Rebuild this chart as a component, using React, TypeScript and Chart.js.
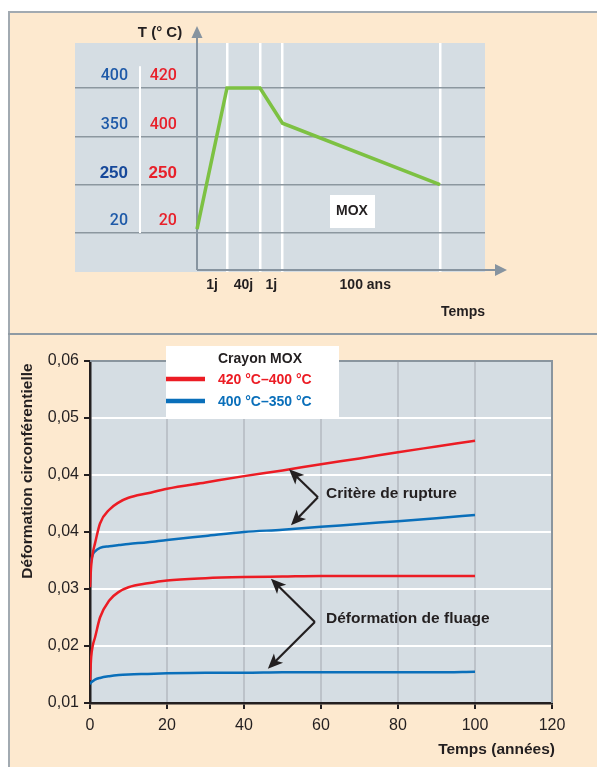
import React, { useEffect, useRef } from "react";
import { Chart, registerables } from "chart.js";
Chart.register(...registerables);

const FONT = '"Liberation Sans", Arial, Helvetica, sans-serif';
const DARK = "#231f20";
const RED = "#ec1c24";
const BLUE = "#0a6fba";

// ---------- Top panel (schematic temperature history) ----------
const phaseBounds = [0, 1, 2.1, 2.85, 8.1]; // schematic time units
const phaseLabels = ["1j", "40j", "1j", "100 ans"];
const tempProfile = [0.08, 3, 3, 2.27, 1]; // temperature level index
const levelsBlue = ["20", "250", "350", "400"];
const levelsRed = ["20", "250", "400", "420"];

// ---------- Bottom panel (creep strain) ----------
const years = [0, 0.3, 0.7, 1.3, 2.6, 5, 7.5, 10, 15, 20, 30, 40, 50, 60, 70, 80, 90, 100];
const rupture420 = [2.03, 2.4, 2.62, 2.8, 3.15, 3.39, 3.52, 3.6, 3.68, 3.76, 3.87, 3.98, 4.08, 4.19, 4.29, 4.4, 4.5, 4.6];
const rupture400 = [2.33, 2.5, 2.6, 2.66, 2.72, 2.75, 2.77, 2.79, 2.82, 2.86, 2.93, 3.0, 3.04, 3.09, 3.14, 3.19, 3.24, 3.3];
const fluage420 = [0.4, 0.8, 1.0, 1.15, 1.5, 1.8, 1.95, 2.03, 2.1, 2.15, 2.19, 2.21, 2.22, 2.23, 2.23, 2.23, 2.23, 2.23];
const fluage400 = [0.33, 0.36, 0.38, 0.41, 0.44, 0.47, 0.49, 0.5, 0.51, 0.52, 0.53, 0.53, 0.54, 0.54, 0.54, 0.54, 0.54, 0.55];
const strainTickLabels = ["0,01", "0,02", "0,03", "0,04", "0,04", "0,05", "0,06"];
const legendTitle = "Crayon MOX";
const seriesNames = ["420 °C–400 °C", "400 °C–350 °C"];
const annotations = [
  { text: "Critère de rupture", vertex: [59.2, 3.61], tips: [[51.7, 4.1], [52.2, 3.12]], textAt: [61.3, 3.68] },
  { text: "Déformation de fluage", vertex: [58.4, 1.42], tips: [[47, 2.18], [46.2, 0.6]], textAt: [61.3, 1.47] },
];

function arrowHead(ctx: CanvasRenderingContext2D, x1: number, y1: number, x2: number, y2: number, len: number, half: number) {
  const ang = Math.atan2(y2 - y1, x2 - x1);
  ctx.beginPath();
  ctx.moveTo(x2, y2);
  ctx.lineTo(x2 - len * Math.cos(ang) + half * Math.sin(ang), y2 - len * Math.sin(ang) - half * Math.cos(ang));
  ctx.lineTo(x2 - len * 0.75 * Math.cos(ang), y2 - len * 0.75 * Math.sin(ang));
  ctx.lineTo(x2 - len * Math.cos(ang) - half * Math.sin(ang), y2 - len * Math.sin(ang) + half * Math.cos(ang));
  ctx.closePath();
  ctx.fill();
}

function TopChart() {
  const ref = useRef<HTMLCanvasElement>(null);
  useEffect(() => {
    const decor = {
      id: "topDecor",
      beforeDraw(chart: any) {
        const { ctx, chartArea: a } = chart;
        ctx.save();
        ctx.fillStyle = "#d5dde3";
        ctx.fillRect(a.left, a.top, a.right - a.left, a.bottom - a.top);
        ctx.restore();
      },
      beforeDatasetsDraw(chart: any) {
        const { ctx } = chart;
        const xs = chart.scales.x, ys = chart.scales.y;
        ctx.save();
        // separator between the two label columns
        ctx.strokeStyle = "#ffffff";
        ctx.lineWidth = 2;
        const sx = xs.getPixelForValue(-1.9);
        ctx.beginPath();
        ctx.moveTo(sx, ys.getPixelForValue(3.45));
        ctx.lineTo(sx, ys.getPixelForValue(0));
        ctx.stroke();
        // level labels
        ctx.textBaseline = "middle";
        ctx.textAlign = "right";
        levelsBlue.forEach((t, i) => {
          const bold = i === 1;
          ctx.font = bold ? `bold 17px ${FONT}` : `500 16px Roboto, ${FONT}`;
          ctx.fillStyle = bold ? "#17489a" : "#1f5aa8";
          ctx.fillText(t, xs.getPixelForValue(-2.3), ys.getPixelForValue(i + 0.24));
        });
        levelsRed.forEach((t, i) => {
          const bold = i === 1;
          ctx.font = bold ? `bold 17px ${FONT}` : `500 16px Roboto, ${FONT}`;
          ctx.fillStyle = "#e8202a";
          ctx.fillText(t, xs.getPixelForValue(-0.67), ys.getPixelForValue(i + 0.24));
        });
        // axes with arrows
        const ox = xs.getPixelForValue(0);
        const oy = ys.bottom - 2;
        ctx.strokeStyle = "#8794a0";
        ctx.fillStyle = "#8794a0";
        ctx.lineWidth = 2;
        ctx.beginPath();
        ctx.moveTo(ox, oy);
        ctx.lineTo(ox, 36);
        ctx.moveTo(ox, oy);
        ctx.lineTo(497, oy);
        ctx.stroke();
        ctx.beginPath();
        ctx.moveTo(ox, 26);
        ctx.lineTo(ox - 5.5, 38);
        ctx.lineTo(ox + 5.5, 38);
        ctx.closePath();
        ctx.fill();
        ctx.beginPath();
        ctx.moveTo(507, oy);
        ctx.lineTo(495, oy - 6);
        ctx.lineTo(495, oy + 6);
        ctx.closePath();
        ctx.fill();
        // texts
        ctx.fillStyle = DARK;
        ctx.font = `bold 15px ${FONT}`;
        ctx.textAlign = "center";
        ctx.fillText("T (° C)", 160, 33);
        ctx.font = `bold 14px ${FONT}`;
        phaseLabels.forEach((t, i) => {
          const mid = (phaseBounds[i] + phaseBounds[i + 1]) / 2;
          ctx.fillText(t, xs.getPixelForValue(mid) + (i === 3 ? 4 : 0), oy + 15);
        });
        ctx.textAlign = "right";
        ctx.fillText("Temps", 485, 312);
        ctx.restore();
      },
      afterDraw(chart: any) {
        const { ctx } = chart;
        ctx.save();
        ctx.fillStyle = "#ffffff";
        ctx.fillRect(330, 195, 45, 33);
        ctx.fillStyle = DARK;
        ctx.font = `bold 14px ${FONT}`;
        ctx.textAlign = "center";
        ctx.textBaseline = "middle";
        ctx.fillText("MOX", 352, 211);
        ctx.restore();
      },
    };
    const chart = new Chart(ref.current!, {
      type: "line",
      data: {
        datasets: [
          {
            data: phaseBounds.map((x, i) => ({ x, y: tempProfile[i] })),
            borderColor: "#7dc142",
            borderWidth: 3.5,
            pointRadius: 0,
            tension: 0,
          },
        ],
      },
      options: {
        responsive: false,
        animation: false,
        events: [],
        layout: { padding: { left: 75, top: 43, right: 112, bottom: 61 } },
        plugins: { legend: { display: false }, tooltip: { enabled: false } },
        scales: {
          x: {
            type: "linear",
            min: -4.067,
            max: 9.6,
            ticks: { display: false },
            grid: { color: "#ffffff", lineWidth: 2.5, drawTicks: false },
            border: { display: false },
            afterBuildTicks: (s: any) => {
              s.ticks = phaseBounds.slice(1).map((v) => ({ value: v }));
            },
            afterFit: (s: any) => {
              s.height = 0;
            },
          },
          y: {
            type: "linear",
            min: -0.807,
            max: 3.93,
            ticks: { display: false },
            grid: { color: "#8c979f", lineWidth: 1.5, drawTicks: false },
            border: { display: false },
            afterBuildTicks: (s: any) => {
              s.ticks = levelsBlue.map((_, i) => ({ value: i }));
            },
            afterFit: (s: any) => {
              s.width = 0;
            },
          },
        },
      } as any,
      plugins: [decor],
    });
    return () => chart.destroy();
  }, []);
  return <canvas ref={ref} width={597} height={333} style={{ position: "absolute", left: 0, top: 0 }} />;
}

function BottomChart() {
  const ref = useRef<HTMLCanvasElement>(null);
  useEffect(() => {
    const decor = {
      id: "bottomDecor",
      beforeDraw(chart: any) {
        const { ctx, chartArea: a } = chart;
        ctx.save();
        ctx.fillStyle = "#d5dde3";
        ctx.fillRect(a.left, a.top, a.right - a.left, a.bottom - a.top);
        ctx.restore();
      },
      beforeDatasetsDraw(chart: any) {
        const { ctx, chartArea: a } = chart;
        ctx.save();
        ctx.strokeStyle = "#8a959e";
        ctx.lineWidth = 2;
        ctx.beginPath();
        ctx.moveTo(a.left, a.top);
        ctx.lineTo(a.right, a.top);
        ctx.lineTo(a.right, a.bottom);
        ctx.stroke();
        ctx.restore();
      },
      afterDraw(chart: any) {
        const { ctx } = chart;
        const xs = chart.scales.x, ys = chart.scales.y;
        ctx.save();
        // legend box
        ctx.fillStyle = "#ffffff";
        ctx.fillRect(166, 12, 173, 72);
        ctx.textBaseline = "middle";
        ctx.textAlign = "left";
        ctx.font = `bold 14px ${FONT}`;
        ctx.fillStyle = DARK;
        ctx.fillText(legendTitle, 218, 25);
        [RED, BLUE].forEach((c, i) => {
          const y = 45 + i * 22;
          ctx.strokeStyle = c;
          ctx.lineWidth = 4.5;
          ctx.beginPath();
          ctx.moveTo(166, y);
          ctx.lineTo(205, y);
          ctx.stroke();
          ctx.fillStyle = c;
          ctx.fillText(seriesNames[i], 218, y + 1);
        });
        // annotations
        ctx.strokeStyle = DARK;
        ctx.fillStyle = DARK;
        ctx.lineWidth = 2.2;
        annotations.forEach((an) => {
          const vx = xs.getPixelForValue(an.vertex[0]);
          const vy = ys.getPixelForValue(an.vertex[1]);
          an.tips.forEach((t) => {
            const tx = xs.getPixelForValue(t[0]);
            const ty = ys.getPixelForValue(t[1]);
            const ang = Math.atan2(ty - vy, tx - vx);
            ctx.beginPath();
            ctx.moveTo(vx, vy);
            ctx.lineTo(tx - 10 * Math.cos(ang), ty - 10 * Math.sin(ang));
            ctx.stroke();
            arrowHead(ctx, vx, vy, tx, ty, 15, 6.5);
          });
          ctx.font = `bold 15.5px ${FONT}`;
          ctx.textAlign = "left";
          ctx.fillText(an.text, xs.getPixelForValue(an.textAt[0]), ys.getPixelForValue(an.textAt[1]));
        });
        // axis titles
        ctx.font = `bold 15.5px ${FONT}`;
        ctx.textAlign = "right";
        ctx.fillText("Temps (années)", 555, 416);
        ctx.translate(28, 137);
        ctx.rotate(-Math.PI / 2);
        ctx.textAlign = "center";
        ctx.fillText("Déformation circonférentielle", 0, 0);
        ctx.restore();
      },
    };
    const mk = (d: number[], c: string) => ({
      data: years.map((x, i) => ({ x, y: d[i] })),
      borderColor: c,
      borderWidth: 2.5,
      pointRadius: 0,
      cubicInterpolationMode: "monotone",
    });
    const chart = new Chart(ref.current!, {
      type: "line",
      data: {
        datasets: [mk(rupture420, RED), mk(rupture400, BLUE), mk(fluage420, RED), mk(fluage400, BLUE)],
      },
      options: {
        responsive: false,
        animation: false,
        events: [],
        layout: { padding: { left: 0, top: 27, right: 45, bottom: 0 } },
        plugins: { legend: { display: false }, tooltip: { enabled: false } },
        scales: {
          x: {
            type: "linear",
            min: 0,
            max: 120,
            ticks: { stepSize: 20, font: { family: FONT, size: 16 }, color: DARK, padding: 7, maxRotation: 0 },
            grid: { color: "#bcc2c9", lineWidth: 2, tickColor: DARK, tickLength: 6, tickWidth: 2 },
            border: { display: true, color: DARK, width: 2.5 },
            afterFit: (s: any) => {
              s.height = 64;
            },
          },
          y: {
            type: "linear",
            min: 0,
            max: 6,
            ticks: {
              stepSize: 1,
              font: { family: FONT, size: 16 },
              color: DARK,
              padding: 5,
              callback: (v: any) => strainTickLabels[v],
            },
            grid: { color: "#ffffff", lineWidth: 2, tickColor: DARK, tickLength: 6, tickWidth: 2 },
            border: { display: true, color: DARK, width: 2.5 },
            afterFit: (s: any) => {
              s.width = 90;
            },
          },
        },
      } as any,
      plugins: [decor],
    });
    return () => chart.destroy();
  }, []);
  return <canvas ref={ref} width={597} height={433} style={{ position: "absolute", left: 0, top: 334 }} />;
}

export default function App() {
  return (
    <div style={{ position: "absolute", left: 0, top: 0, width: 597, height: 767, overflow: "hidden", background: "#ffffff" }}>
      <div
        style={{
          position: "absolute",
          left: 8,
          top: 11,
          width: 589,
          height: 756,
          background: "#fde9cf",
          borderLeft: "2px solid #a2aab1",
          borderTop: "2px solid #a2aab1",
          boxSizing: "border-box",
        }}
      />
      <div style={{ position: "absolute", left: 8, top: 333, width: 589, height: 1.5, background: "#8f9aa3" }} />
      <TopChart />
      <BottomChart />
    </div>
  );
}
